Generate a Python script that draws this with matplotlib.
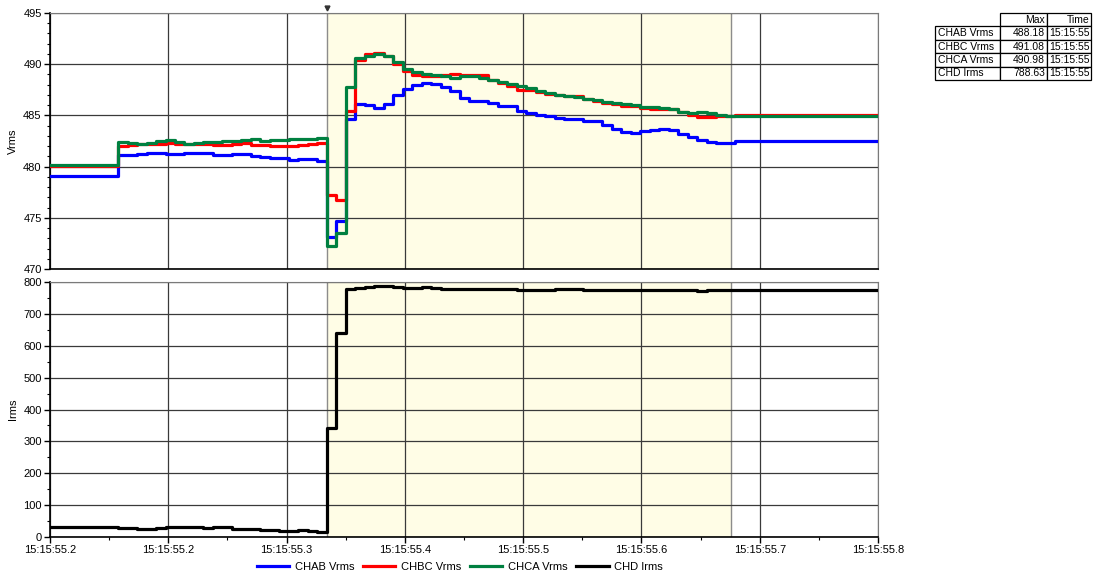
import numpy as np
import matplotlib
matplotlib.use("Agg")
import matplotlib.pyplot as plt
from matplotlib.ticker import MultipleLocator, FixedLocator

plt.rcParams['font.family'] = ['Liberation Sans', 'DejaVu Sans']

# time axis in ms after 15:15:55.2; samples every ~6.88 ms once recording starts
first_sample_ms = 49.3
sample_ms = 6.88
trigger_ms = 200.7
window_end_ms = 493.5
span_ms = 600.0

x_tick_labels = ["15:15:55.2", "15:15:55.2", "15:15:55.3", "15:15:55.4",
                 "15:15:55.5", "15:15:55.6", "15:15:55.7", "15:15:55.8"]

# value held before the first sample
pre_ab, pre_bc, pre_ca, pre_d = 479.1, 480.1, 480.2, 31

chab_vrms = [481.1, 481.1, 481.2, 481.3, 481.3, 481.2, 481.2, 481.3, 481.3, 481.3,
             481.1, 481.1, 481.2, 481.2, 481.0, 480.9, 480.8, 480.8, 480.6, 480.7,
             480.7, 480.5,
             473.1, 474.7, 484.6, 486.1, 486.0, 485.7, 486.1, 487.0, 487.6, 488.0,
             488.2, 488.1, 487.8, 487.4, 486.7, 486.4, 486.4, 486.2, 485.9, 485.9,
             485.4, 485.2, 485.0, 484.9, 484.7, 484.6, 484.6, 484.5, 484.5, 484.1,
             483.7, 483.4, 483.3, 483.5, 483.6, 483.7, 483.6, 483.2, 482.9, 482.6,
             482.4, 482.3, 482.3, 482.5]
chbc_vrms = [482.0, 482.1, 482.2, 482.2, 482.2, 482.3, 482.2, 482.2, 482.2, 482.2,
             482.1, 482.1, 482.2, 482.3, 482.1, 482.1, 482.0, 482.0, 482.0, 482.1,
             482.2, 482.3,
             477.2, 476.7, 485.4, 490.4, 491.0, 491.1, 490.8, 490.0, 489.3, 488.9,
             488.8, 488.8, 488.9, 489.0, 488.9, 488.9, 488.9, 488.5, 488.2, 487.9,
             487.5, 487.5, 487.3, 487.1, 487.0, 486.9, 486.9, 486.6, 486.4, 486.2,
             486.1, 485.9, 485.9, 485.7, 485.6, 485.6, 485.6, 485.3, 485.0, 484.8,
             484.8, 484.9, 484.9, 485.0]
chca_vrms = [482.4, 482.3, 482.2, 482.3, 482.5, 482.6, 482.4, 482.2, 482.3, 482.4,
             482.4, 482.5, 482.5, 482.6, 482.7, 482.5, 482.6, 482.6, 482.7, 482.7,
             482.7, 482.8,
             472.2, 473.5, 487.8, 490.6, 490.8, 491.0, 490.8, 490.2, 489.5, 489.2,
             489.0, 488.9, 488.8, 488.7, 488.8, 488.8, 488.7, 488.5, 488.3, 488.1,
             487.9, 487.7, 487.4, 487.2, 487.0, 486.9, 486.8, 486.6, 486.5, 486.3,
             486.2, 486.1, 486.0, 485.8, 485.8, 485.7, 485.6, 485.3, 485.2, 485.3,
             485.2, 485.0, 484.9, 484.9]
chd_irms = [28, 28, 24, 24, 29, 31, 31, 31, 31, 28,
            31, 30, 24, 24, 24, 23, 22, 19, 19, 22,
            19, 16,
            343, 641, 778, 782, 785, 788, 787, 784, 780, 782,
            783, 780, 778, 778, 778, 778, 778, 777, 777, 777,
            776, 775, 775, 776, 777, 777, 777, 776, 775, 775,
            775, 775, 775, 776, 776, 774, 775, 775, 774, 773,
            775, 774, 774, 775]

table_rows = ["CHAB Vrms", "CHBC Vrms", "CHCA Vrms", "CHD Irms"]
table_max = ["488.18", "491.08", "490.98", "788.63"]
table_time = ["15:15:55", "15:15:55", "15:15:55", "15:15:55"]

colors = {"CHAB Vrms": "#0000ff", "CHBC Vrms": "#ff0000",
          "CHCA Vrms": "#008040", "CHD Irms": "#000000"}


def series(pre, vals):
    t = first_sample_ms + sample_ms * np.arange(len(vals))
    t = np.concatenate([[0.0], t, [span_ms]])
    v = np.concatenate([[pre], vals, [vals[-1]]])
    return t, v


W, H = 1096, 574
fig = plt.figure(figsize=(W / 100, H / 100), dpi=100)


def px_axes(left, top, right, bottom):
    return fig.add_axes([left / W, 1 - bottom / H, (right - left) / W, (bottom - top) / H])


ax_v = px_axes(50, 13, 878, 269)
ax_i = px_axes(50, 282, 878, 537)

x_ticks = [span_ms / 7 * k for k in range(8)]
x_minor = [span_ms / 14 * (2 * k + 1) for k in range(7)]

for ax in (ax_v, ax_i):
    ax.axvspan(trigger_ms, window_end_ms, color="#fffde6", zorder=0)
    ax.axvline(trigger_ms, color="#8c8c8c", lw=1.0, zorder=1)
    ax.axvline(window_end_ms, color="#8c8c8c", lw=1.0, zorder=1)
    ax.set_xlim(0, span_ms)
    ax.xaxis.set_major_locator(FixedLocator(x_ticks))
    ax.xaxis.set_minor_locator(FixedLocator(x_minor))
    ax.grid(True, which="major", color="#3a3a3a", lw=0.9, zorder=1)
    for side in ("top", "right"):
        ax.spines[side].set_color("#7a7a7a")
    for side in ("left", "bottom"):
        ax.spines[side].set_color("black")
        ax.spines[side].set_linewidth(1.2)
    ax.tick_params(axis="both", which="major", direction="out", length=4, width=1,
                   labelsize=8, pad=2)
    ax.tick_params(axis="both", which="minor", direction="out", length=2.5, width=0.8)

ax_v.tick_params(axis="x", which="both", length=0, labelbottom=False)
ax_v.set_ylim(470, 495)
ax_v.yaxis.set_major_locator(MultipleLocator(5))
ax_v.yaxis.set_minor_locator(MultipleLocator(1))
ax_v.set_ylabel("Vrms", fontsize=8)
ax_v.yaxis.set_label_coords(-32 / 828, 0.5)

ax_i.set_ylim(0, 800)
ax_i.yaxis.set_major_locator(MultipleLocator(100))
ax_i.yaxis.set_minor_locator(MultipleLocator(50))
ax_i.set_xticklabels(x_tick_labels)
ax_i.set_ylabel("Irms", fontsize=8)
ax_i.yaxis.set_label_coords(-32 / 828, 0.5)

handles = []
for name, pre, vals in (("CHAB Vrms", pre_ab, chab_vrms),
                        ("CHBC Vrms", pre_bc, chbc_vrms),
                        ("CHCA Vrms", pre_ca, chca_vrms)):
    t, v = series(pre, vals)
    h, = ax_v.step(t, v, where="post", color=colors[name], lw=2.3, label=name, zorder=3)
    handles.append(h)

t, v = series(pre_d, chd_irms)
h, = ax_i.step(t, v, where="post", color=colors["CHD Irms"], lw=2.3, label="CHD Irms", zorder=3)
handles.append(h)

# cursor marker above the plot
ax_v.plot([trigger_ms], [495.5], marker="v", color="#333333", markersize=3.5,
          clip_on=False, zorder=5)

fig.legend(handles=handles, loc="center", ncol=4, frameon=False, fontsize=8,
           handlelength=2.9, handletextpad=0.5, columnspacing=0.8,
           bbox_to_anchor=(460 / W, 1 - 567 / H))

# max/time summary table
ax_t = px_axes(935, 13, 1091, 80)
ax_t.axis("off")
cell_text = [["", "Max", "Time"]] + [[r, m, tm] for r, m, tm in zip(table_rows, table_max, table_time)]
tbl = ax_t.table(cellText=cell_text, colWidths=[65, 47, 44], bbox=[0, 0, 1, 1],
                 cellLoc="right")
tbl.auto_set_font_size(False)
for (r, c), cell in tbl.get_celld().items():
    cell.set_fontsize(7.5)
    cell.set_linewidth(0.9)
    cell.PAD = 0.04
    if c == 0:
        cell.get_text().set_ha("left")
    if r == 0 and c == 0:
        cell.visible_edges = ""

fig.savefig("out.png", dpi=100)
